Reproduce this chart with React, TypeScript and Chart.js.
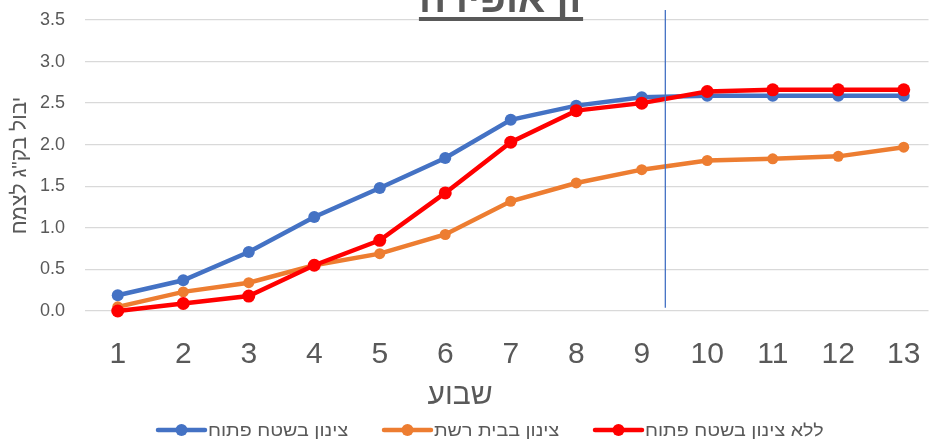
import React, { useEffect, useRef } from "react";
import { Chart, registerables } from "chart.js";

Chart.register(...registerables);

const weeks = [1, 2, 3, 4, 5, 6, 7, 8, 9, 10, 11, 12, 13];
const openFieldChill = [0.19, 0.37, 0.71, 1.13, 1.48, 1.84, 2.3, 2.47, 2.57, 2.59, 2.59, 2.59, 2.59];
const netHouseChill = [0.05, 0.23, 0.34, 0.55, 0.69, 0.92, 1.32, 1.54, 1.7, 1.81, 1.83, 1.86, 1.97];
const noChillOpen = [0.0, 0.09, 0.18, 0.55, 0.85, 1.42, 2.03, 2.41, 2.5, 2.64, 2.66, 2.66, 2.66];
const seriesNames = ["צינון בשטח פתוח", "צינון בבית רשת", "ללא צינון בשטח פתוח"];
const seriesColors = ["#4472C4", "#ED7D31", "#FF0000"];
const yTickValues = [0, 0.5, 1, 1.5, 2, 2.5, 3, 3.5];
const markerWeek = 9.36;
const markerSpan = [0.04, 3.62];
const chartTitle = "זן אופירה";
const xAxisTitle = "שבוע";
const yAxisTitle = 'יבול בק"ג לצמח';

const FONT = '"Liberation Sans", Arial, sans-serif';
const TEXT = "#595959";

const decorPlugin = {
  id: "decor",
  afterDraw(chart: any) {
    const ctx = chart.ctx as CanvasRenderingContext2D;
    ctx.save();
    ctx.fillStyle = TEXT;
    // title (partially cut off at top)
    ctx.font = `bold 40px ${FONT}`;
    ctx.textAlign = "center";
    ctx.textBaseline = "alphabetic";
    const tx = 501;
    ctx.fillText(chartTitle, tx, 12);
    const tw = ctx.measureText(chartTitle).width;
    ctx.fillRect(tx - tw / 2, 17, tw, 4);
    // x axis title
    ctx.font = `30px ${FONT}`;
    ctx.fillText(xAxisTitle, 460, 404);
    // legend
    const starts = [156, 382, 593];
    ctx.font = `17px ${FONT}`;
    ctx.textAlign = "left";
    const ly = 430;
    seriesNames.forEach((name, i) => {
      const sx = starts[i];
      ctx.strokeStyle = seriesColors[i];
      ctx.lineWidth = 4.5;
      ctx.lineCap = "round";
      ctx.beginPath();
      ctx.moveTo(sx + 2, ly);
      ctx.lineTo(sx + 49, ly);
      ctx.stroke();
      ctx.fillStyle = seriesColors[i];
      ctx.beginPath();
      ctx.arc(sx + 25.5, ly, 6, 0, Math.PI * 2);
      ctx.fill();
      ctx.fillStyle = TEXT;
      ctx.textBaseline = "alphabetic";
      ctx.save();
      ctx.translate(sx + 52, 436);
      ctx.scale(1.16, 1);
      ctx.fillText(name, 0, 0);
      ctx.restore();
    });
    ctx.restore();
  },
};

export default function App() {
  const ref = useRef<HTMLCanvasElement | null>(null);
  useEffect(() => {
    if (!ref.current) return;
    Chart.defaults.font.family = FONT;
    const series = [openFieldChill, netHouseChill, noChillOpen];
    const radii = [6, 5.5, 6.5];
    const orders = [3, 2, 1];
    const datasets: any[] = series.map((vals, i) => ({
      label: seriesNames[i],
      data: weeks.map((w, j) => ({ x: w, y: vals[j] })),
      borderColor: seriesColors[i],
      backgroundColor: seriesColors[i],
      pointBackgroundColor: seriesColors[i],
      pointBorderColor: seriesColors[i],
      borderWidth: 4.5,
      pointRadius: radii[i],
      pointBorderWidth: 0,
      tension: 0,
      order: orders[i],
      clip: 10,
    }));
    datasets.push({
      label: "marker",
      data: [
        { x: markerWeek, y: markerSpan[0] },
        { x: markerWeek, y: markerSpan[1] },
      ],
      borderColor: "#4472C4",
      borderWidth: 1.3,
      pointRadius: 0,
      order: 0,
      clip: false,
    });
    const chart = new Chart(ref.current, {
      type: "line",
      data: { datasets },
      plugins: [decorPlugin],
      options: {
        animation: false,
        responsive: false,
        layout: { padding: { top: 20, right: 0, bottom: 0, left: 0 } },
        plugins: { legend: { display: false }, tooltip: { enabled: false }, title: { display: false } },
        scales: {
          x: {
            type: "linear",
            min: 0.5,
            max: 13.378,
            afterBuildTicks: (scale: any) => {
              scale.ticks = weeks.map((w) => ({ value: w }));
            },
            afterFit: (scale: any) => {
              scale.height = 130;
              scale.paddingLeft = 0;
              scale.paddingRight = 0;
            },
            grid: { display: false },
            border: { display: false },
            ticks: {
              autoSkip: false,
              maxRotation: 0,
              font: { size: 30 },
              color: TEXT,
              padding: 18,
              callback: (v: any) => String(v),
            },
          },
          y: {
            min: 0,
            max: 3.5,
            afterBuildTicks: (scale: any) => {
              scale.ticks = yTickValues.map((v) => ({ value: v }));
            },
            afterFit: (scale: any) => {
              scale.width = 85;
              scale.paddingTop = 0;
              scale.paddingBottom = 0;
            },
            grid: { color: "#D9D9D9", lineWidth: 1.3, drawTicks: false },
            border: { display: false },
            ticks: {
              font: { size: 18 },
              color: TEXT,
              padding: 20,
              callback: (v: any) => Number(v).toFixed(1),
            },
            title: {
              display: true,
              text: yAxisTitle,
              font: { size: 21 },
              color: TEXT,
              padding: { top: 8, bottom: 0 },
            },
          },
        },
      },
    });
    return () => chart.destroy();
  }, []);
  return (
    <div style={{ position: "fixed", left: 0, top: 0, width: 935, height: 441 }}>
      <canvas ref={ref} width={935} height={441} style={{ display: "block" }} />
    </div>
  );
}
